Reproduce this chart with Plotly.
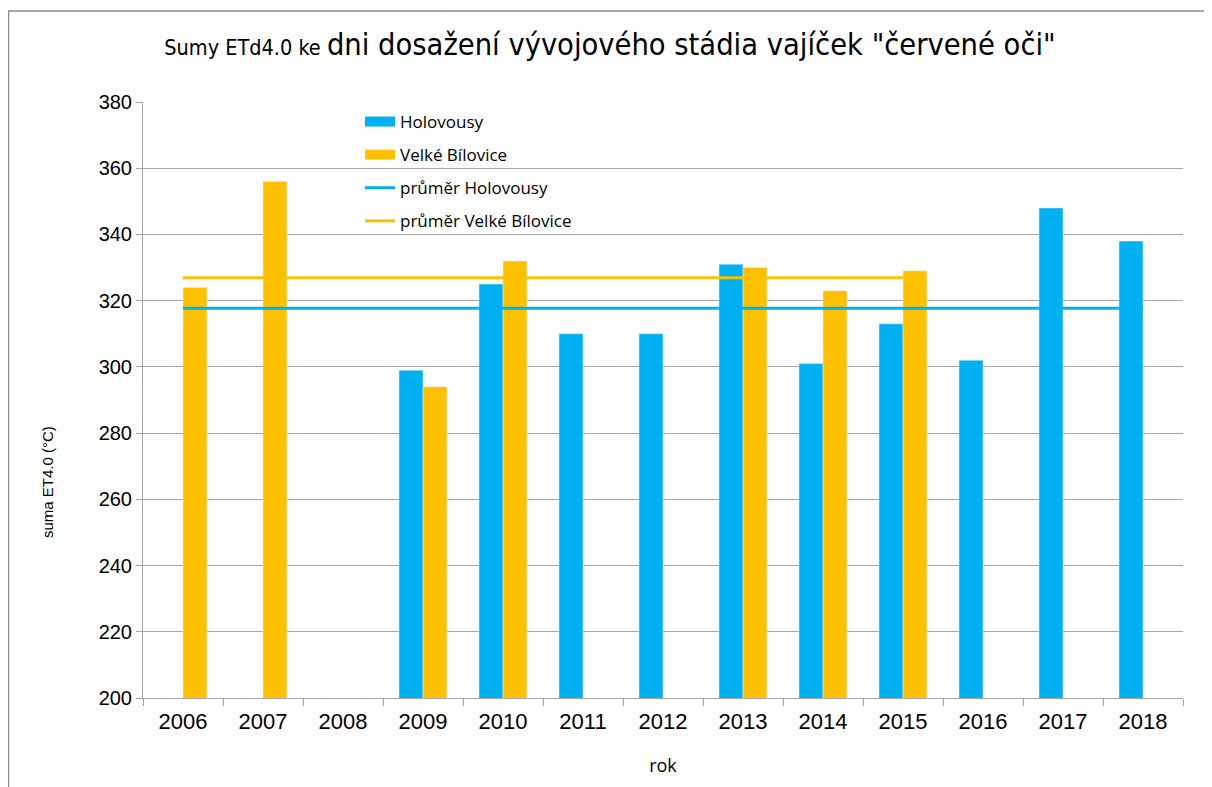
import plotly.graph_objects as go

years = ["2006", "2007", "2008", "2009", "2010", "2011", "2012",
         "2013", "2014", "2015", "2016", "2017", "2018"]
holovousy = [None, None, None, 299, 325, 310, 310, 331, 301, 313, 302, 348, 338]
velke_bilovice = [324, 356, None, 294, 332, None, None, 330, 323, 329, None, None, None]

avg_holovousy = 317.7
avg_velke_bilovice = 326.9
avg_h_years = years                # 2006 - 2018
avg_vb_years = years[:10]          # 2006 - 2015

BLUE = "#00B0F0"
GOLD = "#FFC000"
NARROW = "Liberation Sans Narrow, DejaVu Sans Condensed, sans-serif"
ARIAL = "Liberation Sans, Arial, sans-serif"
LEG = "Open Sans, sans-serif"

fig = go.Figure()
fig.add_trace(go.Bar(x=years, y=holovousy, name="Holovousy", marker_color=BLUE,
                     showlegend=False))
fig.add_trace(go.Bar(x=years, y=velke_bilovice, name="Velké Bílovice", marker_color=GOLD,
                     showlegend=False))
# legend entries for bars (wide rectangles)
fig.add_trace(go.Scatter(x=[None], y=[None], mode="lines", name="Holovousy",
                         line=dict(color=BLUE, width=11), legendgroup="a"))
fig.add_trace(go.Scatter(x=[None], y=[None], mode="lines", name="Velké Bílovice",
                         line=dict(color=GOLD, width=11), legendgroup="b"))
fig.add_trace(go.Scatter(x=avg_h_years, y=[avg_holovousy] * len(avg_h_years),
                         mode="lines", name="průměr Holovousy",
                         line=dict(color=BLUE, width=3), legendgroup="c"))
fig.add_trace(go.Scatter(x=avg_vb_years, y=[avg_velke_bilovice] * len(avg_vb_years),
                         mode="lines", name="průměr Velké Bílovice",
                         line=dict(color=GOLD, width=3), legendgroup="d"))

fig.update_layout(
    width=1212, height=787,
    margin=dict(l=135, r=37, t=94, b=97),
    paper_bgcolor="white", plot_bgcolor="white",
    barmode="group", bargap=0.4, bargroupgap=0,
    title=dict(
        text='<span style="font-size:21.5px">Sumy ETd4.0 ke </span>dni dosažení vývojového stádia vajíček "červené oči"',
        x=(610 - 8) / 1212, xanchor="center", y=1 - (44 - 8) / 787, yanchor="middle",
        font=dict(family=NARROW, size=30.5, color="black"),
    ),
    legend=dict(
        x=(360 - 143) / 1040, y=(698 - 104) / 596, xanchor="left", yanchor="top",
        bgcolor="rgba(0,0,0,0)", font=dict(family=LEG, size=17, color="black"),
        tracegroupgap=8, itemwidth=30,
    ),
    xaxis=dict(
        type="category", tickson="boundaries", ticks="outside", ticklen=7,
        tickcolor="#a6a6a6", showline=True, linecolor="#a6a6a6", linewidth=1,
        tickfont=dict(family=ARIAL, size=22, color="black"), ticklabelstandoff=4,
        title=dict(text="rok", font=dict(family=LEG, size=18, color="black"), standoff=25),
        showgrid=False,
    ),
    yaxis=dict(
        range=[200, 380], dtick=20, ticks="outside", ticklen=6, tickcolor="#a6a6a6",
        showline=True, linecolor="#a6a6a6", linewidth=1,
        gridcolor="#a6a6a6", gridwidth=1, zeroline=False,
        tickfont=dict(family=ARIAL, size=20, color="black"),
    ),
    annotations=[dict(text="suma ET4.0 (°C)", textangle=-90, showarrow=False,
                      xref="paper", yref="paper",
                      x=(47 - 143) / 1040, y=(698 - 482) / 596,
                      xanchor="center", yanchor="middle",
                      font=dict(family=ARIAL, size=15, color="black"))],
    shapes=[dict(type="rect", xref="paper", yref="paper",
                 x0=(8.5 - 143) / 1040, x1=(1240 - 143) / 1040,
                 y0=(698 - 820) / 596, y1=(698 - 11) / 596,
                 line=dict(color="#8c8c8c", width=1.5), fillcolor="rgba(0,0,0,0)", layer="below")],
)

fig.write_html("out.html")
